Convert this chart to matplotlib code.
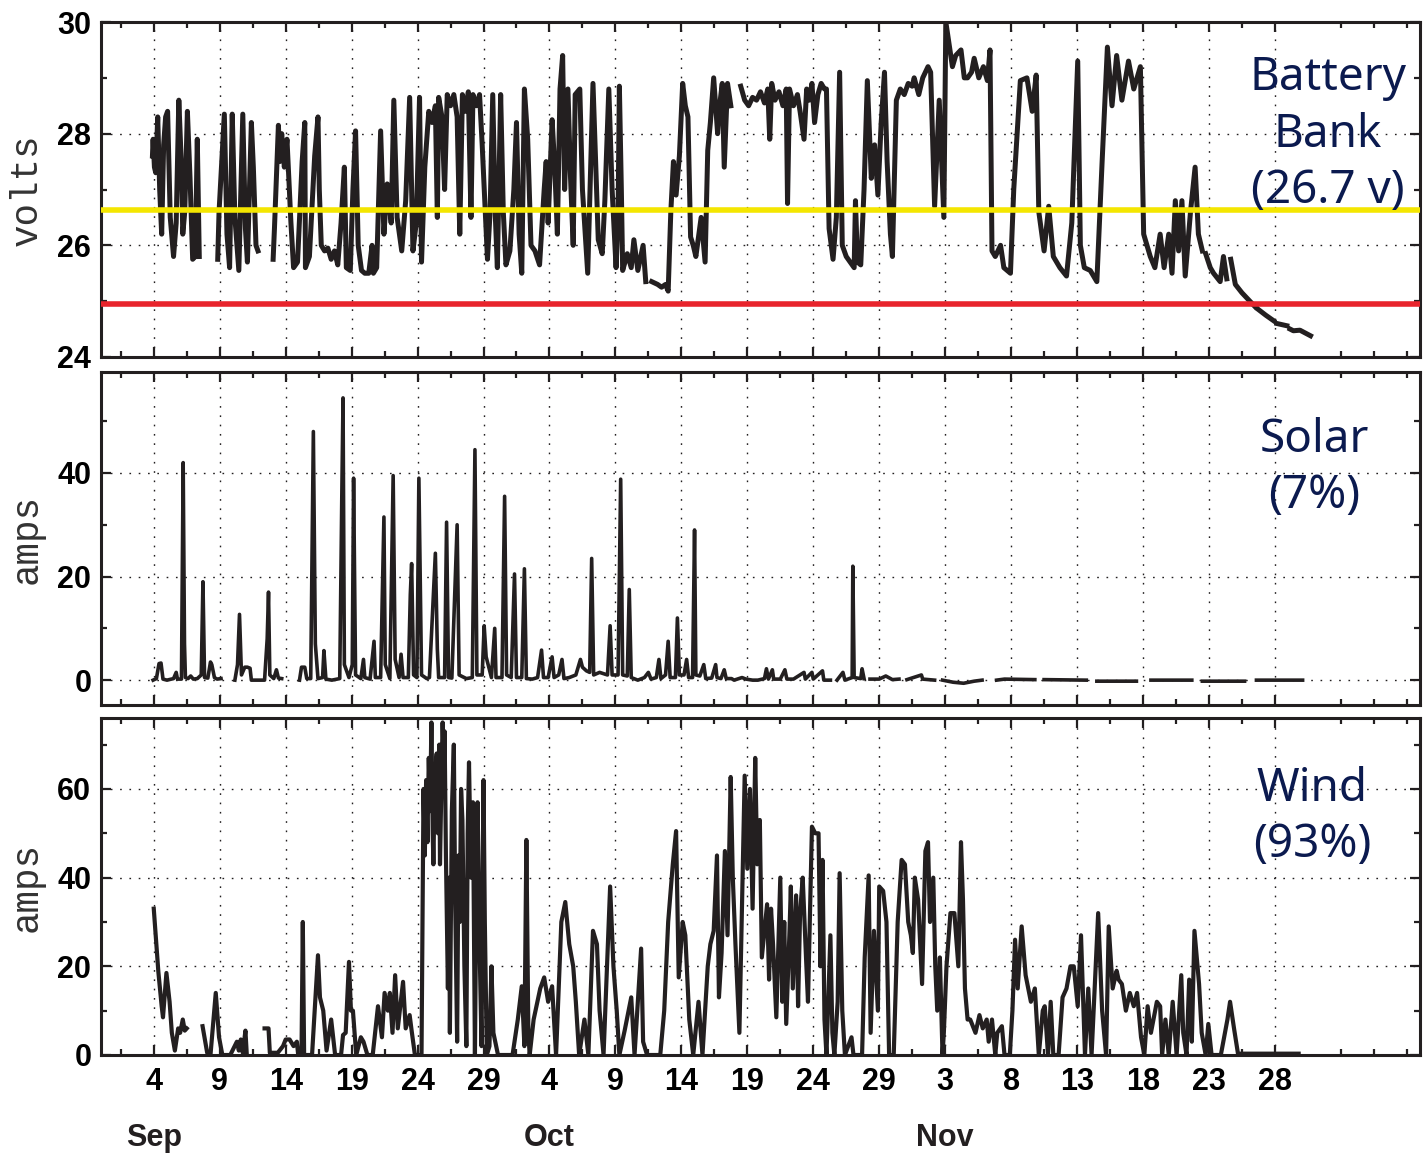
import numpy as np
import matplotlib
matplotlib.use("Agg")
import matplotlib.pyplot as plt
from matplotlib import font_manager
from matplotlib.ticker import FixedLocator, FixedFormatter
from datetime import date, timedelta

nan = np.nan
# x = days after Aug 31
day0 = date(2000, 8, 31)

# ---- battery bank voltage ----
bat_day = [3.90, 3.95, 4.05, 4.15, 4.30, 4.45, 4.60, 4.75, 4.90, 5.05, 5.25, 5.50, 5.70, 5.90, 6.10,
           6.20, 6.35, 6.55, 6.75, 6.95, 7.15, 7.30, 7.45, nan,
           8.85, 8.95, 9.35, 9.55, 9.75, 9.95, 10.15, 10.45, 10.75, 10.95, 11.10, 11.40, 11.55, 11.75, 11.90, nan,
           13.05, 13.15, 13.45, 13.55, 13.70, 13.90, 14.10, 14.40, 14.60, 14.90, 15.25, 15.45, 15.50, 15.80,
           16.20, 16.45, 16.55, 16.70, 16.95, 17.20, 17.45, 17.70, 17.95, 18.20, 18.45, 18.60, 18.90, 19.10,
           19.30, 19.50, 19.75, 20.00, 20.30, 20.55, 20.65, 20.90, 21.20, 21.45, 21.70, 22.00, 22.20, 22.45,
           22.80, 23.10, 23.40, 23.65, 23.90, 24.15, 24.30, 24.55, 24.85, 25.10, 25.35, 25.50, 25.60, 25.85,
           26.05, 26.25, 26.50, 26.75, 27.00, 27.20, 27.40, 27.65, 27.85, 28.05, 28.20, 28.45, 28.70, 28.90,
           29.30, 29.50, 29.70, 29.90, 30.05, 30.30, 30.50, 30.70, 31.00, 31.30, 31.50, 31.70, 31.90, 32.10,
           32.35, 32.60, 32.90, 33.25, 33.60, 33.75, 33.90, 34.20, 34.40, 34.60, 34.80, 35.00, 35.15, 35.40,
           35.60, 35.80, 35.95, 36.30, 36.50, 36.90, 37.10, 37.30, 37.50, 37.70, 38.00, 38.20, 38.50, 38.75,
           39.05, 39.20, 39.30, 39.45, 39.55, 39.90, 40.20, 40.40, 40.70, 41.10, 41.30, nan,
           41.75, 42.20, 42.50, 42.80, 43.00, 43.20, 43.40, 43.60, 43.85, 44.10, 44.30, 44.50, 44.70, 44.90,
           45.10, 45.50, 45.80, 46.00, 46.20, 46.45, 46.75, 46.90, 47.10, 47.25, 47.50, 47.75, nan,
           48.50, 48.80, 49.10, 49.40, 49.70, 50.00, 50.30, 50.55, 50.70, 50.85, 51.10, 51.40, 51.70, 51.95,
           52.05, 52.20, 52.50, 52.80, 53.00, 53.30, 53.50, 53.70, 53.90, 54.10, 54.35, 54.60, 54.85, 55.00,
           55.20, 55.50, 55.75, 56.00, 56.20, 56.50, 56.80, 57.10, 57.20, 57.35, 57.60, 57.85, 58.10, 58.40,
           58.65, 58.90, 59.15, 59.40, 59.60, 59.85, 60.00, 60.30, 60.60, 60.90, 61.20, 61.50, 61.65, 62.00,
           62.30, 62.70, 62.90, 63.20, 63.55, 63.90, 64.05, 64.30, 64.55, 64.80, 65.20, 65.45, 65.70, 66.00,
           66.20, 66.55, 66.90, 67.20, 67.40, 67.55, 67.80, 68.20, 68.45, 68.95, 69.20, 69.70, 70.20, 70.60,
           70.90, 71.10, 71.50, 71.85, 72.20, 72.70, 73.20, 73.60, 74.05, 74.25, 74.55, 75.00, 75.50, 75.90,
           76.30, 76.65, 77.00, 77.40, 77.90, 78.30, 78.80, 79.05, 79.55, 79.90, 80.30, 80.60, 80.95, 81.20,
           81.45, 81.70, 81.95, 82.20, 82.60, 82.95, 83.20, 83.50, nan,
           83.75, 84.10, 84.35, 84.85, 85.10, 85.35, nan, 85.65, 86.00, 86.50, 87.10, 87.50, nan,
           87.75, 88.30, 88.90, nan, 89.15, 89.90, nan, 90.15, 90.40, 90.90, 91.70]
bat_volts = [27.6, 27.9, 27.4, 27.3, 28.3, 27.0, 26.2, 27.8, 28.3, 28.4, 26.5, 25.8, 26.4, 28.6, 27.4,
             26.2, 26.6, 28.4, 27.2, 25.75, 25.8, 27.9, 25.8, nan,
             25.75, 26.6, 28.35, 26.2, 25.6, 28.35, 26.5, 25.55, 28.35, 26.3, 25.7, 28.2, 27.4, 26.0, 25.9, nan,
             25.75, 26.3, 28.15, 27.5, 28.0, 27.4, 27.9, 26.4, 25.6, 25.7, 27.5, 28.2, 25.6, 25.8,
             27.6, 28.3, 27.0, 26.0, 25.9, 25.95, 25.75, 25.9, 25.65, 26.4, 27.4, 25.6, 25.55, 27.0,
             28.05, 26.0, 25.55, 25.5, 25.5, 26.0, 25.5, 25.6, 28.05, 26.2, 27.1, 26.4, 28.6, 26.5,
             25.9, 26.8, 28.65, 25.9, 26.4, 28.65, 25.7, 27.4, 28.4, 28.2, 28.5, 26.5, 28.65, 28.3,
             27.0, 28.7, 28.5, 28.7, 28.3, 26.2, 28.7, 28.4, 28.75, 26.5, 28.7, 28.5, 28.7, 27.8,
             25.75, 26.6, 28.7, 26.5, 25.6, 28.7, 26.6, 25.65, 25.9, 27.0, 28.2, 26.2, 25.5, 28.8,
             27.9, 26.0, 25.9, 25.65, 27.0, 27.5, 26.4, 28.25, 27.4, 26.2, 28.8, 29.4, 27.0, 28.8,
             27.2, 26.0, 28.7, 28.8, 27.0, 25.5, 27.2, 28.9, 27.5, 26.1, 25.85, 26.8, 28.8, 27.0,
             25.6, 26.5, 28.85, 27.0, 25.55, 25.85, 25.6, 26.1, 25.55, 26.0, 25.35, nan,
             25.35, 25.3, 25.25, 25.3, 25.18, 26.6, 27.5, 26.9, 27.6, 28.9, 28.5, 28.3, 26.15, 26.0,
             25.8, 26.5, 25.7, 27.7, 28.2, 29.0, 28.0, 28.5, 28.9, 27.4, 28.9, 28.5, nan,
             28.85, 28.6, 28.5, 28.65, 28.6, 28.75, 28.55, 28.8, 27.9, 28.9, 28.6, 28.75, 28.5, 28.8,
             26.75, 28.8, 28.5, 28.7, 28.4, 27.9, 28.8, 28.6, 28.9, 28.2, 28.7, 28.9, 28.8, 28.8,
             26.3, 25.75, 26.5, 29.1, 26.0, 25.8, 25.7, 25.6, 26.8, 25.7, 25.65, 27.0, 28.95, 27.2,
             27.8, 26.9, 28.2, 29.1, 27.5, 26.2, 25.8, 28.6, 28.8, 28.7, 28.9, 28.85, 29.0, 28.7,
             29.0, 29.2, 29.1, 26.7, 28.6, 26.5, 30.0, 29.6, 29.2, 29.4, 29.5, 29.0, 29.0, 29.1,
             29.35, 29.0, 29.2, 28.95, 29.5, 25.9, 25.8, 26.0, 25.6, 25.5, 27.0, 28.95, 29.0, 28.4,
             29.05, 26.6, 25.9, 26.7, 25.8, 25.6, 25.45, 26.4, 29.3, 26.0, 25.6, 25.55, 25.35, 27.5,
             29.55, 28.5, 29.4, 28.6, 29.3, 28.8, 29.2, 26.2, 25.8, 25.6, 26.2, 25.6, 26.2, 25.5,
             26.8, 25.9, 26.8, 25.45, 26.6, 27.4, 26.2, 25.9, nan,
             25.85, 25.6, 25.5, 25.35, 25.8, 25.4, nan, 25.75, 25.3, 25.15, 25.0, 24.9, nan,
             24.85, 24.75, 24.65, nan, 24.6, 24.56, nan, 24.5, 24.47, 24.48, 24.38]

# ---- solar current ----
sol_day = [3.95, 4.2, 4.4, 4.55, 4.7, 5.0, 5.5, 5.7, 5.8, 6.1, 6.23, 6.33, 6.4, 6.6, 6.8, 7.0, 7.3,
           7.6, 7.73, 7.85, 8.1, 8.3, 8.4, 8.6, 8.8, 9.1, nan,
           10.15, 10.35, 10.5, 10.65, 10.9, 11.1, 11.3, 11.4, 12.4, 12.6, 12.7, 12.8, 13.1, 13.3, 13.45,
           13.7, nan,
           15.05, 15.2, 15.45, 15.6, 15.9, 16.1, 16.25, 16.45, 16.8, 16.9, 17.05, 17.5, 18.1, 18.25,
           18.35, 18.45, 18.8, 19.05, 19.15, 19.3, 19.7, 19.9, 20.0, 20.4, 20.7, 20.8, 21.2, 21.45, 21.55,
           21.9, 22.15, 22.3, 22.6, 22.75, 22.9, 23.3, 23.45, 23.55, 23.7, 23.95, 24.1, 24.3, 24.7, 24.9,
           25.35, 25.5, 25.6, 26.05, 26.2, 26.35, 26.6, 27.0, 27.15, 27.7, 28.15, 28.35, 28.5, 28.9,
           29.05, 29.2, 29.6, 29.85, 29.95, 30.4, 30.6, 30.75, 31.1, 31.35, 31.5, 31.9, 32.1, 32.25,
           32.7, 33.1, 33.4, 33.55, 33.9, 34.2, 34.35, 34.7, 34.95, 35.1, 35.5, 36.0, 36.35, 36.5, 36.8,
           37.05, 37.2, 37.35, 37.8, 38.4, 38.6, 38.75, 39.2, 39.4, 39.55, 39.9, 40.05, 40.2, 40.7, 41.2,
           41.5, 41.7, 42.1, 42.3, 42.45, 42.8, 43.0, 43.15, 43.55, 43.7, 43.85, 44.2, 44.4, 44.55, 44.85,
           45.0, 45.1, 45.4, 45.7, 45.85, 46.3, 46.6, 46.7, 47.0, 47.25, 47.4, 47.8, 48.0, 48.6, 48.9,
           49.4, 49.8, 50.3, 50.45, 50.6, 50.9, 51.0, 51.5, 51.85, 52.0, 52.5, 53.3, 53.4, 53.9, 54.0,
           54.7, 54.8, 55.3, nan,
           55.8, 56.25, 56.4, 56.95, 57.0, 57.1, 57.6, 57.7, 57.85, nan,
           58.3, 59.0, 59.5, 60.0, 60.5, nan, 61.1, 62.2, 62.3, 63.2, nan,
           63.8, 64.6, 65.4, 66.2, 66.8, nan, 67.9, 68.5, 70.8, nan, 71.5, 74.7, nan,
           75.5, 78.5, nan, 79.6, 82.7, nan, 83.5, 86.7, nan, 87.6, 91.1]
sol_amps = [0, 0.3, 3.2, 3.3, 0.2, 0, 0.3, 1.5, 0.2, 0.2, 42, 7, 0.5, 0.3, 0.8, 0.2, 0.3,
            1, 19, 0.5, 0.4, 3.5, 3, 0.5, 0.2, 0.3, nan,
            0, 3, 12.7, 1, 2.5, 2.5, 2.3, 0, 0, 8, 17, 1, 0.3, 2, 0.4,
            0.3, nan,
            0, 2.5, 2.5, 0.3, 0.3, 48, 7, 0.3, 0.5, 5.7, 0.2, 0, 0.3, 34,
            54.5, 3, 0.5, 3, 39, 1, 0.3, 4, 0.5, 0.2, 7.5, 0.5, 0.5, 31.5, 3,
            0.3, 39.5, 4, 0.5, 5, 0.5, 0.5, 16.5, 22.5, 1, 0.5, 39, 1, 0.3, 0.5,
            24.5, 6, 0.5, 0.5, 30.5, 0.5, 0.4, 30, 1, 0.3, 0.5, 44.5, 1, 1,
            10.5, 4.5, 0.5, 10, 0.5, 0.5, 35.5, 1, 0.5, 20.5, 0.5, 0.5, 21.5, 0.3,
            0.2, 0.5, 5.8, 0.5, 0.5, 4.5, 0.5, 1, 4, 0.3, 0.5, 1, 4, 2.5, 1.8,
            1.5, 23.5, 1, 1.5, 1, 10.5, 1, 1, 38.8, 1, 0.8, 17.5, 0.5, 0, 0.5,
            1.5, 0.2, 0.5, 4, 0.3, 1, 7.5, 0.5, 0.5, 12, 1, 1, 4, 0.5, 0.5,
            29, 1, 0.8, 3, 0.3, 0.4, 3, 0.5, 0.3, 2, 0.3, 0.3, 0, 0.5, 0.2,
            0, 0, 0.3, 2.2, 0.2, 2, 0.2, 0.2, 2, 0.2, 0.2, 1.5, 0.2, 1.5, 0.2,
            1.8, 0, 0, nan,
            0, 1.5, 0, 0.5, 22, 0.5, 0.3, 2.2, 0.3, nan,
            0.2, 0.2, 0.8, 0.1, 0.2, nan, 0.1, 1.0, 0.2, 0.0, nan,
            0, -0.4, -0.6, -0.2, 0, nan, 0, 0.2, 0.1, nan, 0.1, 0.0, nan,
            -0.2, -0.2, nan, 0, 0, nan, -0.2, -0.2, nan, 0, 0]

# ---- wind current ----
wind_day = [4.0, 4.35, 4.6, 4.7, 4.96, 5.2, 5.37, 5.6, 5.85, 6.0, 6.2, 6.35, 6.5, nan,
            7.7, 7.9, 8.05, 8.3, 8.7, 8.95, 9.2, 9.8, 10.3, 10.45, 10.6, 10.75, 10.95, 11.05, nan,
            12.4, 12.7, 12.8, 13.4, 13.8, 14.0, 14.3, 14.6, 14.85, 14.95, 15.2, 15.3, 15.4, 16.0,
            16.45, 16.6, 16.85, 17.1, 17.45, 17.6, 17.75, 18.2, 18.35, 18.55, 18.8, 18.95, 19.1, 19.35,
            19.7, 19.9, 20.2, 20.6, 21.0, 21.3, 21.5, 21.75, 21.9, 22.1, 22.3, 22.5, 22.9, 23.1, 23.4,
            23.55, 23.8, 24.0, 24.3,
            24.4, 24.45, 24.55, 24.65, 24.75, 24.85, 24.95, 25.05, 25.15, 25.2, 25.3, 25.45, 25.55, 25.65,
            25.7, 25.8, 25.9, 26.0, 26.05, 26.15, 26.3, 26.4, 26.45, 26.6, 26.75, 26.85, 27.0, 27.1,
            27.2, 27.3, 27.4, 27.55, 27.7, 27.8, 27.9, 28.05, 28.2, 28.3, 28.35, 28.45, 28.55, 28.7,
            28.85, 28.95, 29.0, 29.1, 29.25, 29.45,
            29.6, 29.75, 30.1, 31.2, 31.6, 31.9, 32.1, 32.25, 32.4, 32.5, 32.8, 33.3, 33.6, 33.9, 34.2,
            34.5, 34.9, 35.2, 35.5, 35.8, 36.0, 36.25, 36.65, 36.95, 37.3, 37.6, 37.8, 38.1, 38.6, 38.85,
            39.1, 39.3, 39.7, 40.2, 40.45, 40.95, 41.1, 41.4, 42.4, 42.7, 43.0, 43.35, 43.6, 43.8, 44.1,
            44.3, 44.6, 44.9, 45.3, 45.6, 45.8, 46.0, 46.2, 46.45, 46.7, 46.85, 47.05, 47.3, 47.5, 47.74,
            47.9, 48.1, 48.4, 48.8, 49.0, 49.2, 49.4, 49.6, 49.75, 49.95, 50.1, 50.5, 50.65, 50.8, 50.95,
            51.2, 51.5, 51.65, 51.8, 51.95, 52.2, 52.3, 52.45, 52.7, 52.85, 53.0, 53.2, 53.45, 53.6, 53.9,
            54.15, 54.4, 54.55, 54.7, 54.85, 55.0, 55.3, 55.45, 55.6, 55.85, 56.0, 56.2, 56.4, 56.65, 56.9,
            57.05, 57.7, 57.9, 58.2, 58.35, 58.6, 58.9, 59.0, 59.3, 59.55, 59.75, 60.1, 60.4, 60.7, 60.95,
            61.2, 61.4, 61.55, 61.7, 61.95, 62.25, 62.5, 62.7, 62.85, 63.1, 63.25, 63.4, 63.6, 63.8, 63.9,
            64.1, 64.4, 64.7, 65.0, 65.2, 65.35, 65.5, 65.7, 65.9, 66.3, 66.6, 66.85, 67.15, 67.3, 67.55,
            67.8, 67.95, 68.3, 68.5, 68.9, 69.1, 69.3, 69.5, 69.8, 70.1, 70.5, 70.8, 71.1, 71.4, 71.55,
            71.8, 72.0, 72.2, 72.6, 72.9, 73.2, 73.5, 73.75, 74.05, 74.3, 74.6, 74.85, 75.1, 75.6, 75.9,
            76.2, 76.4, 76.7, 77.0, 77.15, 77.4, 77.7, 78.0, 78.3, 78.55, 78.85, 79.1, 79.35, 79.6, 80.05,
            80.3, 80.45, 80.7, 80.95, 81.25, 81.55, 81.9, 82.05, 82.3, 82.5, 82.7, 82.9, 83.25, 83.45,
            83.75, 83.95, 84.2, 84.9, 85.4, 85.6, 85.9, 86.2, 90.8]
wind_amps = [33, 18.7, 11, 8.5, 18.5, 12, 5, 1, 6, 5, 8, 5.5, 6, nan,
             6.5, 3, 0.5, 0, 14, 4, 0, 0, 3, 1, 3.5, 0.5, 5.5, 0.2, nan,
             6, 6, 0.5, 0.5, 2, 3.5, 3.5, 2, 3, 0, 0, 30, 0, 0,
             22.5, 13, 10, 1, 8, 4, 0, 0, 4.5, 5, 21, 10, 10, 0,
             4, 3, 0, 0, 11, 4, 14, 10, 14, 5, 18, 6, 16.5, 6, 9,
             5.5, 0, 0, 0,
             40, 60, 45, 62, 48, 67, 55, 75, 50, 43, 62, 68, 50, 70,
             43, 60, 75, 65, 73, 45, 15, 40, 5, 55, 70, 35, 3, 45,
             30, 60, 53, 20, 2, 50, 66, 40, 57, 20, 0, 35, 57, 25,
             2, 45, 62, 30, 0, 2,
             20, 5, 0, 0, 8, 15.5, 2, 48.5, 5, 0, 8, 15, 17.5, 12, 15.5,
             0, 30, 34.5, 25, 20, 12, 0, 8, 0, 28, 25, 10, 0, 38, 20,
             10, 0, 5.5, 13, 0, 24, 3, 0, 0, 10, 30, 43, 50.5, 17.5, 30,
             27, 8, 0, 12, 0, 10, 20, 25, 28, 45, 13, 23, 46, 27, 62.7,
             40, 25, 5, 63, 42, 60, 33, 67, 43, 53, 22, 34, 17, 33, 25,
             8.5, 40, 12, 30, 7, 28, 38, 15, 36, 11, 32, 40, 22, 12, 51.5,
             50, 50, 20, 44, 8, 0, 27, 5, 0, 12, 41, 10, 0, 2, 4,
             0, 0, 22, 40.5, 5, 28, 10, 38, 37, 30, 0, 0, 30, 44, 43,
             30, 27, 23, 40, 35, 16, 46, 48, 30, 40, 20, 10, 22, 0, 5,
             20, 32, 32, 20, 48, 35, 15, 8, 8, 5, 9, 6, 8, 3, 8,
             0, 5, 6.5, 0, 0, 10, 26, 15, 29, 18, 12, 15, 0, 10, 11,
             0, 12, 0, 0, 13, 15, 20, 20, 11, 27, 0, 15, 0, 32, 10,
             0, 29, 15, 19, 17, 16, 10, 14, 11, 14, 4, 0, 11, 5, 12,
             11, 0, 8, 0, 12, 0, 18, 5, 0, 17, 3, 28, 16, 5,
             0, 7, 0, 0, 8, 12, 6, 0.3, 0.3]

yellow_level = 26.63
red_level = 24.95

major_days = list(range(4, 90, 5))
minor_days = [1.5 + 5 * i for i in range(18)] + [94, 96.5, 99]
day_labels = [str((day0 + timedelta(days=d)).day) for d in major_days]
months = [(4, "Sep"), (34, "Oct"), (64, "Nov")]

ink = "#231f20"
navy = "#0b1a4f"

try:
    font_manager.findfont("Liberation Sans Narrow", fallback_to_default=False)
    tick_font = dict(family="Liberation Sans Narrow", size=24, weight="bold")
except ValueError:
    tick_font = dict(family="Liberation Sans", size=22, weight="bold")

fig = plt.figure(figsize=(14.23, 11.56), dpi=100)
L, W = 101 / 1423, 1319 / 1423
ax1 = fig.add_axes([L, 1 - 357 / 1156, W, 335 / 1156])
ax2 = fig.add_axes([L, 1 - 705 / 1156, W, 333 / 1156])
ax3 = fig.add_axes([L, 1 - 1055 / 1156, W, 337 / 1156])

ax1.plot(bat_day, bat_volts, color=ink, lw=3.6, zorder=3)
ax1.axhline(yellow_level, color="#f4e600", lw=4, zorder=4)
ax1.axhline(red_level, color="#e8242c", lw=4, zorder=4)
ax2.plot(sol_day, sol_amps, color=ink, lw=2.6, zorder=3)
ax3.plot(wind_day, wind_amps, color=ink, lw=3.0, zorder=3)

ax1.set_ylim(24, 30)
ax2.set_ylim(-4.8, 59.5)
ax3.set_ylim(0, 76)

yspec = [(ax1, [24, 26, 28, 30], [25, 27, 29]),
         (ax2, [0, 20, 40], [10, 30, 50]),
         (ax3, [0, 20, 40, 60], [10, 30, 50, 70])]
for ax, ymaj, ymin in yspec:
    ax.set_xlim(0, 100)
    ax.xaxis.set_major_locator(FixedLocator(major_days))
    ax.xaxis.set_minor_locator(FixedLocator(minor_days))
    ax.yaxis.set_major_locator(FixedLocator(ymaj))
    ax.yaxis.set_minor_locator(FixedLocator(ymin))
    ax.tick_params(which="both", direction="in", top=True, right=True, width=1.6, color=ink)
    ax.tick_params(which="major", length=7)
    ax.tick_params(which="minor", length=4.5)
    ax.tick_params(axis="y", pad=7)
    ax.grid(True, which="major", color=ink, lw=1.0, linestyle=(0, (1.2, 5.5)))
    for s in ax.spines.values():
        s.set_linewidth(2.2)
        s.set_color(ink)
    for lab in ax.get_yticklabels():
        lab.set_fontfamily(tick_font["family"])
        lab.set_fontsize(tick_font["size"])
        lab.set_fontweight(tick_font["weight"])
    ax.yaxis.set_label_coords(-0.043, 0.5)

for ax in (ax1, ax2):
    ax.tick_params(axis="x", labelbottom=False)

ax3.xaxis.set_major_formatter(FixedFormatter(day_labels))
ax3.tick_params(axis="x", pad=9)
for lab in ax3.get_xticklabels():
    lab.set_fontfamily(tick_font["family"])
    lab.set_fontsize(tick_font["size"])
    lab.set_fontweight(tick_font["weight"])
for d, m in months:
    ax3.text(d, -0.245, m, transform=ax3.get_xaxis_transform(), ha="center", va="center",
             fontfamily=tick_font["family"], fontsize=tick_font["size"],
             fontweight="bold", color=ink)

mono = dict(family="Liberation Mono", size=27, color="#333333")
ax1.set_ylabel("volts", fontdict=mono)
ax2.set_ylabel("amps", fontdict=mono)
ax3.set_ylabel("amps", fontdict=mono)

note = dict(family="Noto Sans", size=33, color=navy, ha="center", va="center",
            linespacing=1.3, zorder=6)
ax1.text(0.93, 0.663, "Battery\nBank\n(26.7 v)", transform=ax1.transAxes, **note)
ax2.text(0.92, 0.712, "Solar\n(7%)", transform=ax2.transAxes, **note)
ax3.text(0.918, 0.706, "Wind\n(93%)", transform=ax3.transAxes, **note)

fig.savefig("out.png", dpi=100)
